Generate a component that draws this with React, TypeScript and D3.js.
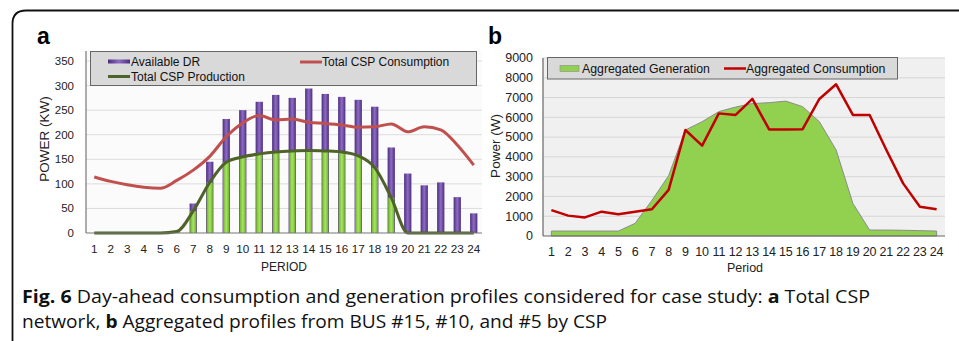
import React from 'react';
import * as d3 from 'd3';

// Period labels 1..24
const periods = ['1', '2', '3', '4', '5', '6', '7', '8', '9', '10', '11', '12', '13', '14', '15', '16', '17', '18', '19', '20', '21', '22', '23', '24'];

// Panel a (kW)
const availableDR = [0, 0, 0, 0, 0, 0, 60, 145, 232, 250, 267, 281, 275, 294, 283, 277, 271, 257, 174, 121, 97, 103, 73, 40];
const cspConsumption = [114, 105, 98, 93, 91, 107, 128, 156, 196, 224, 239, 230, 232, 225, 223, 220, 215, 216, 222, 206, 216, 210, 179, 138];
const cspProduction = [0, 0, 0, 0, 0, 3, 45, 103, 144, 155, 161, 165, 167, 168, 167, 165, 157, 133, 72, 0, 0, 0, 0, 0];
const ticksA = [0, 50, 100, 150, 200, 250, 300, 350];

// Panel b (W)
const aggGeneration = [250, 250, 250, 250, 250, 640, 1800, 3050, 5360, 5780, 6290, 6520, 6700, 6740, 6820, 6540, 5780, 4350, 1650, 300, 300, 290, 270, 250];
const aggConsumption = [1310, 1030, 940, 1230, 1100, 1230, 1350, 2330, 5360, 4570, 6200, 6120, 6930, 5390, 5390, 5400, 6930, 7670, 6120, 6120, 4350, 2660, 1480, 1350];
const ticksB = [0, 1000, 2000, 3000, 4000, 5000, 6000, 7000, 8000, 9000];

const font = '"Liberation Sans", Arial, sans-serif';
const capFont = '"Open Sans", sans-serif';

export default function App() {
  // panel a scales
  const xA = d3.scaleBand().domain(periods).range([86, 482]).paddingInner(0.56).paddingOuter(0.28);
  const xAc = (p: string) => (xA(p) as number) + xA.bandwidth() / 2;
  const yA = d3.scaleLinear().domain([0, 350]).range([233, 61]);

  // panel b scales
  const xB = d3.scaleBand().domain(periods).range([543, 945]);
  const xBc = (p: string) => (xB(p) as number) + xB.bandwidth() / 2;
  const yB = d3.scaleLinear().domain([0, 9000]).range([236, 58]);

  const lineA = d3.line<number>()
    .x((_, i) => xAc(periods[i]))
    .y(d => yA(d))
    .curve(d3.curveMonotoneX);

  const lineB = d3.line<number>()
    .x((_, i) => xBc(periods[i]))
    .y(d => yB(d));

  const areaB = d3.area<number>()
    .x((_, i) => xBc(periods[i]))
    .y0(yB(0))
    .y1(d => yB(d));

  return (
    <svg width={959} height={341} style={{ position: 'absolute', left: 0, top: 0, background: '#fff' }}>
      <defs>
        <linearGradient id="purple" x1="0" x2="1" y1="0" y2="0">
          <stop offset="0%" stopColor="#4e2c7c" />
          <stop offset="50%" stopColor="#8d6cc6" />
          <stop offset="100%" stopColor="#4e2c7c" />
        </linearGradient>
        <linearGradient id="green" x1="0" x2="1" y1="0" y2="0">
          <stop offset="0%" stopColor="#6fb02e" />
          <stop offset="50%" stopColor="#a8e464" />
          <stop offset="100%" stopColor="#6fb02e" />
        </linearGradient>
      </defs>

      {/* frame */}
      <path d="M12.5,345 L12.5,24 Q12.5,10.5 26,10.5 L965,10.5" fill="none" stroke="#111" strokeWidth={1.8} />

      <text x={37} y={44} fontFamily={font} fontWeight="bold" fontSize={23}>a</text>
      <text x={488} y={44} fontFamily={font} fontWeight="bold" fontSize={23}>b</text>

      {/* ===== panel a ===== */}
      <rect x={86} y={51} width={396} height={182} fill="#fbfbfb" />
      {ticksA.map(t => (
        <g key={t}>
          {t > 0 && <line x1={86} x2={482} y1={yA(t)} y2={yA(t)} stroke="#dcdcdc" strokeWidth={1} />}
          <text x={74} y={yA(t)} dy="0.35em" textAnchor="end" fontFamily={font} fontSize={11.5} fill="#222">{t}</text>
        </g>
      ))}
      {periods.map((p, i) => (
        <g key={p}>
          {availableDR[i] > 0 && (
            <rect x={xA(p)} y={yA(availableDR[i])} width={xA.bandwidth()} height={yA(0) - yA(availableDR[i])} fill="url(#purple)" />
          )}
          {cspProduction[i] > 0 && (
            <rect x={(xA(p) as number) + 0.5} y={yA(cspProduction[i])} width={xA.bandwidth() - 1} height={yA(0) - yA(cspProduction[i])} fill="url(#green)" />
          )}
          <text x={xAc(p)} y={253} textAnchor="middle" fontFamily={font} fontSize={11.7} fill="#222">{p}</text>
        </g>
      ))}
      <path d={lineA(cspConsumption) || ''} fill="none" stroke="#c0504d" strokeWidth={3} />
      <path d={lineA(cspProduction) || ''} fill="none" stroke="#4f6228" strokeWidth={3} />
      <line x1={86} x2={86} y1={51} y2={233} stroke="#777" strokeWidth={1.2} />
      <line x1={86} x2={482} y1={233} y2={233} stroke="#777" strokeWidth={1.2} />

      {/* legend a */}
      <rect x={90.5} y={51.5} width={386} height={34} fill="#d9d9d9" stroke="#666" strokeWidth={1} />
      <rect x={108} y={59.5} width={22} height={4} fill="url(#purple)" />
      <text x={131} y={66} fontFamily={font} fontSize={12} fill="#111">Available DR</text>
      <line x1={300} x2={322} y1={62} y2={62} stroke="#c0504d" strokeWidth={3} />
      <text x={322} y={66} fontFamily={font} fontSize={12} fill="#111">Total CSP Consumption</text>
      <line x1={108} x2={130} y1={76.5} y2={76.5} stroke="#4f6228" strokeWidth={3} />
      <text x={131} y={80.5} fontFamily={font} fontSize={12} fill="#111">Total CSP Production</text>

      <text x={284} y={270.5} textAnchor="middle" fontFamily={font} fontSize={12} fill="#222">PERIOD</text>
      <text transform={`translate(44,139) rotate(-90)`} textAnchor="middle" dominantBaseline="central" fontFamily={font} fontSize={13.5} fill="#222">POWER (KW)</text>

      {/* ===== panel b ===== */}
      <rect x={543} y={58} width={402} height={178} fill="#f0f0f0" />
      {ticksB.map(t => (
        <g key={t}>
          {t > 0 && <line x1={543} x2={945} y1={yB(t)} y2={yB(t)} stroke="#d6d6d6" strokeWidth={1} />}
          <text x={533} y={yB(t)} dy="0.35em" textAnchor="end" fontFamily={font} fontSize={12.5} fill="#222">{t}</text>
        </g>
      ))}
      <path d={areaB(aggGeneration) || ''} fill="#92d050" stroke="#8c8c8c" strokeWidth={1} />
      <path d={lineB(aggConsumption) || ''} fill="none" stroke="#c00000" strokeWidth={2.5} strokeLinejoin="round" />
      {periods.map(p => (
        <text key={p} x={xBc(p)} y={256} textAnchor="middle" fontFamily={font} fontSize={12.5} fill="#222">{p}</text>
      ))}
      <line x1={543} x2={543} y1={58} y2={236} stroke="#666" strokeWidth={1.2} />
      <line x1={543} x2={945} y1={236} y2={236} stroke="#666" strokeWidth={1.2} />

      {/* legend b */}
      <rect x={547.5} y={57.5} width={350} height={21.5} fill="#d9d9d9" stroke="#666" strokeWidth={1} />
      <rect x={560} y={65.5} width={19} height={6} fill="#92d050" stroke="#8c8c8c" strokeWidth={0.6} />
      <text x={582} y={73} fontFamily={font} fontSize={12.3} fill="#111">Aggregated Generation</text>
      <line x1={724} x2={746} y1={68.5} y2={68.5} stroke="#c00000" strokeWidth={2.5} />
      <text x={746} y={73} fontFamily={font} fontSize={12.3} fill="#111">Aggregated Consumption</text>

      <text x={745} y={272} textAnchor="middle" fontFamily={font} fontSize={12.5} fill="#222">Period</text>
      <text transform={`translate(495,146) rotate(-90)`} textAnchor="middle" dominantBaseline="central" fontFamily={font} fontSize={13.5} fill="#222">Power (W)</text>

      {/* caption */}
      <text x={22} y={303} fontFamily={capFont} fontSize={18} fill="#111" textLength={848} lengthAdjust="spacingAndGlyphs">
        <tspan fontWeight="bold">Fig. 6</tspan> Day-ahead consumption and generation profiles considered for case study: <tspan fontWeight="bold">a</tspan> Total CSP
      </text>
      <text x={22} y={328} fontFamily={capFont} fontSize={18} fill="#111" textLength={585} lengthAdjust="spacingAndGlyphs">
        network, <tspan fontWeight="bold">b</tspan> Aggregated profiles from BUS #15, #10, and #5 by CSP
      </text>
    </svg>
  );
}
